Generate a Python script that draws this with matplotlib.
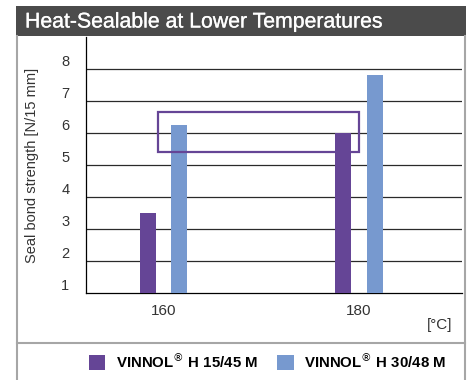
#!/usr/bin/env python3
"""
Seal bond strength vs sealing temperature, two VINNOL grades
"""

import numpy as np
import matplotlib
matplotlib.use('Agg')
import matplotlib.pyplot as plt
from matplotlib.patches import Rectangle, Patch
import matplotlib.patheffects as pe

plt.rcParams['font.family'] = ['Liberation Sans', 'DejaVu Sans']
plt.rcParams['mathtext.fontset'] = 'dejavusans'

# Data
temperatures = ['160', '180']
h1545 = [3.5, 6.0]
h3048 = [6.25, 7.8]
series_names = ['VINNOL$^{®}$ H 15/45 M', 'VINNOL$^{®}$ H 30/48 M']

PURPLE = '#654596'
BLUE = '#7799cf'
BAR_GRAY = '#4b4b4b'
FRAME_GRAY = '#a6a6a6'

W, H = 469, 380
fig = plt.figure(figsize=(W / 100, H / 100), dpi=100)

def fx(px):
    return px / W

def fy(py):
    return 1 - py / H

# Title bar
fig.patches.append(Rectangle((fx(16), fy(36)), fx(450), 30 / H, transform=fig.transFigure,
                             facecolor=BAR_GRAY, edgecolor='none', zorder=0))
fig.text(fx(25), fy(22), 'Heat-Sealable at Lower Temperatures', color='white',
         fontsize=15.3, va='center', ha='left',
         path_effects=[pe.withStroke(linewidth=0.2, foreground='white')])

# Panel frame
for x0 in (17, 465):
    fig.add_artist(plt.Line2D([fx(x0), fx(x0)], [fy(36), 0], transform=fig.transFigure,
                              color=FRAME_GRAY, linewidth=1.5))
fig.add_artist(plt.Line2D([fx(17), fx(465)], [fy(343), fy(343)], transform=fig.transFigure,
                          color=FRAME_GRAY, linewidth=1.5))

# Main axes
ax = fig.add_axes([fx(86), fy(293), fx(462 - 86), (293 - 37) / H])
x = np.arange(len(temperatures))
bw = 0.082
off = 0.08
ax.bar(x - off, h1545, bw, bottom=0, color=PURPLE, zorder=3, label=series_names[0])
ax.bar(x + off, h3048, bw, bottom=0, color=BLUE, zorder=3, label=series_names[1])

ax.set_ylim(1, 9.0)
ax.set_xlim(-0.396, 1.527)
ax.set_yticks(range(1, 9))
for v in range(2, 9):
    ax.axhline(v, color='#2a2a2a', linewidth=0.9, zorder=1)

ax.set_xticks(x)
ax.set_xticklabels(temperatures, fontsize=11)
ax.tick_params(axis='x', length=0, pad=8, colors='#333333')
ax.tick_params(axis='y', length=0, pad=12, labelsize=10.5, colors='#333333')
for lbl in ax.get_yticklabels():
    lbl.set_verticalalignment('bottom')

for s in ('top', 'right'):
    ax.spines[s].set_visible(False)
ax.spines['left'].set_linewidth(0.9)
ax.spines['bottom'].set_linewidth(0.9)
ax.set_ylabel('Seal bond strength [N/15 mm]', fontsize=10.5, color='#333333', labelpad=16)

# Highlight box
ax.add_patch(Rectangle((-0.027, 5.40), 1.028, 1.25, fill=False, edgecolor=PURPLE,
                       linewidth=1.6, zorder=4))

fig.text(fx(452), fy(325), '[°C]', fontsize=11, ha='right', va='center', color='#333333')

# Legend
handles = [Patch(facecolor=PURPLE), Patch(facecolor=BLUE)]
fig.legend(handles, series_names, loc='center right', bbox_to_anchor=(fx(460), fy(361)),
           ncol=2, frameon=False, prop={'weight': 'bold', 'size': 10.8},
           handlelength=1.1, handleheight=1.1, handletextpad=0.7, columnspacing=1.3)

plt.savefig('out.png', dpi=100)
